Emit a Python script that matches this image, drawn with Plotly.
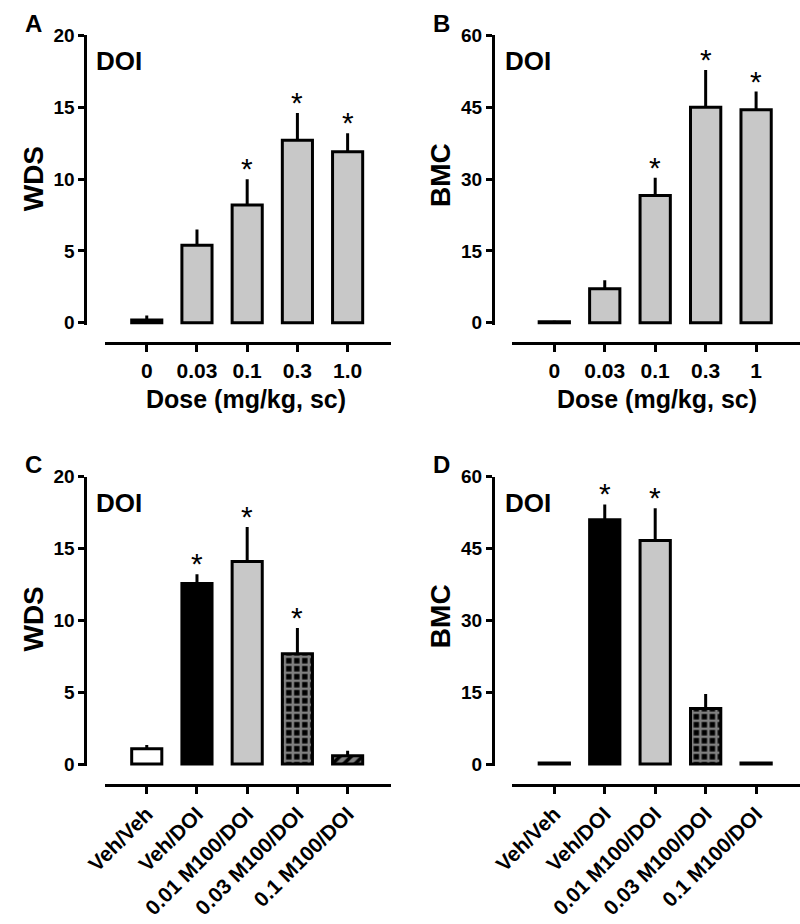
import plotly.graph_objects as go

# ---------------- data ----------------
dose_labels_A = ["0", "0.03", "0.1", "0.3", "1.0"]
dose_labels_B = ["0", "0.03", "0.1", "0.3", "1"]
wds_dose = [0.2, 5.4, 8.2, 12.7, 11.9]
wds_dose_err = [0.3, 1.1, 1.8, 1.9, 1.3]
wds_dose_sig = [False, False, True, True, True]
bmc_dose = [0.2, 7.1, 26.6, 45.0, 44.5]
bmc_dose_err = [0.2, 1.8, 3.7, 7.8, 3.8]
bmc_dose_sig = [False, False, True, True, True]

groups = ["Veh/Veh", "Veh/DOI", "0.01 M100/DOI", "0.03 M100/DOI", "0.1 M100/DOI"]
wds_m100 = [1.07, 12.56, 14.1, 7.67, 0.57]
wds_m100_err = [0.25, 0.65, 2.4, 1.8, 0.36]
wds_m100_sig = [False, True, True, True, False]
bmc_m100 = [0.2, 51.0, 46.7, 11.6, 0.2]
bmc_m100_err = [None, 3.2, 6.7, 3.0, None]
bmc_m100_sig = [False, True, True, False, False]

wds_ticks = [0, 5, 10, 15, 20]
bmc_ticks = [0, 15, 30, 45, 60]

GREY = "#c8c8c8"
FONT = "Liberation Sans, Arial, Helvetica, sans-serif"
W, H = 800, 924

def fx(px):
    return px / W

def fy(py):
    return 1 - py / H

fig = go.Figure()

def add_panel(idx, cats, vals, errs, sig, colors, shapes):
    xa = "x" if idx == 1 else f"x{idx}"
    ya = "y" if idx == 1 else f"y{idx}"
    fig.add_trace(go.Bar(
        x=list(range(len(cats))), y=vals, xaxis=xa, yaxis=ya, width=0.6,
        marker=dict(color=colors, line=dict(color="black", width=3),
                    pattern=dict(shape=shapes, fgcolor="black", bgcolor="white",
                                 size=8, solidity=0.55)),
        error_y=dict(type="data", symmetric=False, array=errs,
                     arrayminus=[0] * len(vals), color="black", thickness=3, width=0),
        showlegend=False, hoverinfo="skip"))
    for i, (v, e, s) in enumerate(zip(vals, errs, sig)):
        if s:
            fig.add_annotation(x=i, y=v + (e or 0), xref=xa, yref=ya, text="*",
                               showarrow=False, yanchor="bottom", yshift=-8,
                               font=dict(family=FONT, size=30, color="black"))

add_panel(1, dose_labels_A, wds_dose, wds_dose_err, wds_dose_sig, [GREY] * 5, [""] * 5)
add_panel(2, dose_labels_B, bmc_dose, bmc_dose_err, bmc_dose_sig, [GREY] * 5, [""] * 5)
m_colors = ["white", "black", GREY, "black", "black"]
m_shapes = ["", "", "", "+", "/"]
add_panel(3, groups, wds_m100, wds_m100_err, wds_m100_sig, m_colors, m_shapes)
add_panel(4, groups, bmc_m100, bmc_m100_err, bmc_m100_sig, m_colors, m_shapes)

# ---------------- axes ----------------
tickfont_y = dict(family=FONT, size=19, color="black", weight="bold")
tickfont_x = dict(family=FONT, size=21, color="black", weight="bold")
tickfont_rot = dict(family=FONT, size=21, color="black", weight="bold")

def yax(top_px, bot_px, xpos_px, rng, ticks):
    return dict(domain=[fy(bot_px), fy(top_px)], anchor="free", position=fx(xpos_px),
                range=rng, tickvals=ticks, ticktext=[str(t) for t in ticks],
                showline=True, linewidth=3, linecolor="black",
                ticks="outside", ticklen=6, tickwidth=3, tickcolor="black",
                showgrid=False, zeroline=False, tickfont=tickfont_y, fixedrange=True)

def xax(left_px, right_px, ypos_px, rng, labels, tf, angle=0):
    return dict(domain=[fx(left_px), fx(right_px)], anchor="free", position=fy(ypos_px),
                range=rng, tickvals=list(range(len(labels))), ticktext=labels,
                showline=True, linewidth=3, linecolor="black",
                ticks="outside", ticklen=7, tickwidth=3, tickcolor="black",
                showgrid=False, zeroline=False, tickfont=tf, tickangle=angle, fixedrange=True)

xrA = [-0.835, 4.854]
xrB = [-0.831, 4.87]
fig.update_layout(
    width=W, height=H, margin=dict(l=0, r=0, t=0, b=0),
    paper_bgcolor="white", plot_bgcolor="white",
    font=dict(family=FONT, color="black"),
    xaxis=xax(87, 380, 340, xrA, dose_labels_A, tickfont_x),
    yaxis=yax(26, 321.2, 67, [-0.15, 20], wds_ticks),
    xaxis2=xax(505, 800, 340, xrB, dose_labels_B, tickfont_x),
    yaxis2=yax(26, 321.2, 485, [-0.45, 60], bmc_ticks),
    xaxis3=xax(87, 380, 790, xrA, groups, tickfont_rot, -45),
    yaxis3=yax(476, 771.2, 67, [-0.15, 20], wds_ticks),
    xaxis4=xax(505, 800, 790, xrB, groups, tickfont_rot, -45),
    yaxis4=yax(476, 771.2, 485, [-0.45, 60], bmc_ticks),
)

def ptext(text, x, y, size, angle=0):
    fig.add_annotation(x=fx(x), y=fy(y), xref="paper", yref="paper", text=text,
                       showarrow=False, xanchor="center", yanchor="middle", textangle=angle,
                       font=dict(family=FONT, size=size, color="black", weight="bold"))

# panel letters
ptext("A", 14, 14, 24)
ptext("B", 432, 14, 24)
ptext("C", 14, 464, 24)
ptext("D", 432, 464, 24)
# DOI labels
ptext("DOI", 102, 52, 26)
ptext("DOI", 521, 52, 26)
ptext("DOI", 102, 503, 26)
ptext("DOI", 521, 503, 26)
# axis titles
ptext("WDS", 14, 172, 28, -90)
ptext("BMC", 432, 168, 28, -90)
ptext("WDS", 14, 621, 28, -90)
ptext("BMC", 432, 618, 28, -90)
ptext("Dose (mg/kg, sc)", 232, 397, 25)
ptext("Dose (mg/kg, sc)", 653, 397, 25)

fig.write_html("out.html", config={"displayModeBar": False},
               post_script="document.body.style.margin='0';document.body.style.padding='0';")
